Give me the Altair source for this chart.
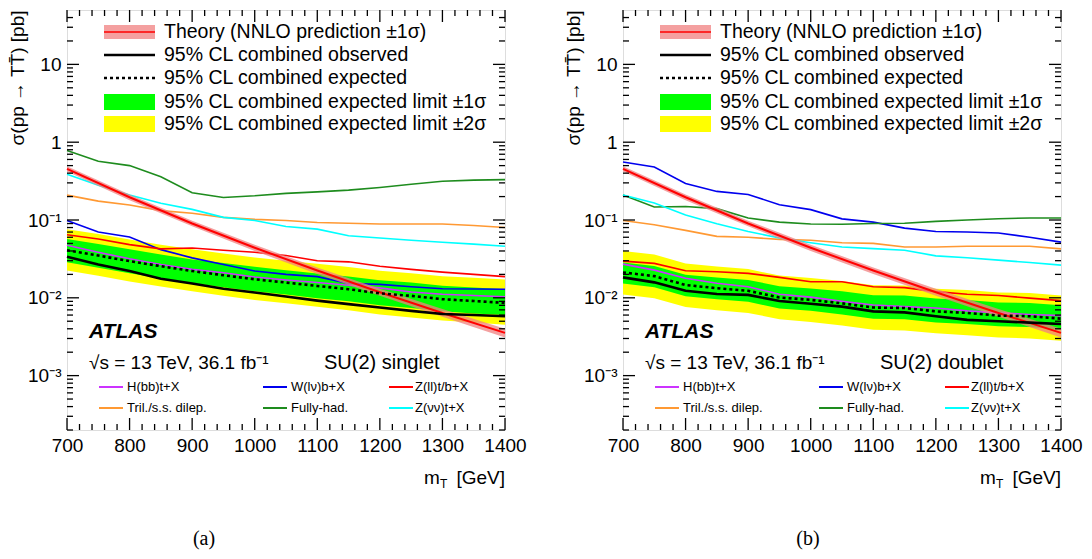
import altair as alt
import pandas as pd

# ---------------- data ----------------
mass = [700, 750, 800, 850, 900, 950, 1000, 1050, 1100, 1150, 1200, 1250, 1300, 1350, 1400]

theory_mass = [700, 800, 900, 1000, 1100, 1200, 1300, 1400]
theory = [0.455, 0.196, 0.0903, 0.0440, 0.0224, 0.0118, 0.00639, 0.00354]
theory_up = [0.49, 0.212, 0.098, 0.048, 0.0246, 0.0131, 0.0072, 0.0040]
theory_dn = [0.42, 0.180, 0.083, 0.040, 0.0202, 0.0106, 0.0057, 0.0031]

channels = ["H(bb)t+X", "W(lν)b+X", "Z(ll)t/b+X", "Tril./s.s. dilep.", "Fully-had.", "Z(νν)t+X"]
channel_colors = ["#CC33FF", "#0000EE", "#FF0000", "#FF9933", "#1E8C1E", "#00FFFF"]

# SU(2) singlet
s_hbb = [0.0473, 0.0385, 0.0317, 0.0268, 0.0232, 0.021, 0.0185, 0.0169, 0.0157, 0.0145, 0.0134, 0.0119, 0.0111, 0.0107, 0.0103]
s_wlv = [0.0985, 0.070, 0.0604, 0.0416, 0.0326, 0.0268, 0.0221, 0.020, 0.0187, 0.0153, 0.0149, 0.0139, 0.0131, 0.013, 0.0129]
s_zll = [0.0646, 0.0569, 0.0482, 0.0425, 0.0437, 0.0408, 0.0385, 0.0349, 0.0299, 0.029, 0.0255, 0.0232, 0.0214, 0.020, 0.0187]
s_tril = [0.209, 0.175, 0.156, 0.132, 0.122, 0.108, 0.102, 0.0984, 0.093, 0.091, 0.089, 0.089, 0.089, 0.085, 0.080]
s_had = [0.78, 0.57, 0.50, 0.36, 0.224, 0.195, 0.205, 0.22, 0.23, 0.242, 0.262, 0.288, 0.315, 0.325, 0.33]
s_zvv = [0.386, 0.28, 0.209, 0.164, 0.137, 0.108, 0.0986, 0.0826, 0.0763, 0.0627, 0.0586, 0.0548, 0.0517, 0.049, 0.046]
s_exp = [0.0408, 0.0349, 0.0296, 0.0255, 0.0221, 0.0195, 0.0173, 0.0157, 0.0142, 0.0129, 0.0114, 0.0106, 0.0096, 0.0091, 0.0086]
s_obs = [0.0336, 0.0268, 0.0221, 0.0176, 0.0153, 0.0131, 0.0117, 0.0104, 0.0092, 0.0083, 0.0075, 0.0068, 0.0062, 0.0060, 0.0058]
s_g_hi = [0.057, 0.049, 0.042, 0.036, 0.031, 0.028, 0.025, 0.0226, 0.0205, 0.0188, 0.0168, 0.0157, 0.0143, 0.0136, 0.0129]
s_g_lo = [0.0286, 0.0244, 0.0207, 0.0179, 0.0155, 0.0137, 0.0121, 0.011, 0.0099, 0.009, 0.008, 0.0074, 0.0067, 0.0063, 0.006]
s_y_hi = [0.076, 0.066, 0.056, 0.048, 0.042, 0.037, 0.033, 0.030, 0.0273, 0.0249, 0.0222, 0.0207, 0.0189, 0.0181, 0.0172]
s_y_lo = [0.0225, 0.0192, 0.0162, 0.0140, 0.0121, 0.0106, 0.0094, 0.0085, 0.0077, 0.0069, 0.0061, 0.0056, 0.0051, 0.0048, 0.0045]

# SU(2) doublet
d_hbb = [0.0271, 0.0227, 0.0178, 0.0154, 0.0139, 0.0111, 0.0102, 0.009, 0.0081, 0.0077, 0.0074, 0.0068, 0.0064, 0.0061, 0.0059]
d_wlv = [0.556, 0.48, 0.294, 0.233, 0.213, 0.157, 0.136, 0.1035, 0.0938, 0.0787, 0.0713, 0.070, 0.068, 0.060, 0.052]
d_zll = [0.0296, 0.0277, 0.0223, 0.0216, 0.0206, 0.0183, 0.0161, 0.0161, 0.0139, 0.0135, 0.012, 0.0111, 0.0107, 0.0099, 0.0092]
d_tril = [0.0985, 0.0867, 0.0735, 0.0616, 0.060, 0.0563, 0.055, 0.051, 0.050, 0.045, 0.045, 0.046, 0.046, 0.046, 0.0426]
d_had = [0.209, 0.147, 0.149, 0.140, 0.106, 0.094, 0.089, 0.088, 0.090, 0.091, 0.096, 0.100, 0.104, 0.106, 0.106]
d_zvv = [0.209, 0.165, 0.116, 0.0894, 0.0713, 0.0586, 0.0511, 0.045, 0.0429, 0.0408, 0.0346, 0.0327, 0.0305, 0.0284, 0.0263]
d_exp = [0.0212, 0.019, 0.0146, 0.0133, 0.0123, 0.0101, 0.0094, 0.0085, 0.0075, 0.0074, 0.0067, 0.0064, 0.0059, 0.0058, 0.0054]
d_obs = [0.0183, 0.0158, 0.0123, 0.0112, 0.0109, 0.0091, 0.0084, 0.0077, 0.0067, 0.0065, 0.0058, 0.0052, 0.005, 0.0048, 0.0046]
d_g_hi = [0.0284, 0.0256, 0.0198, 0.0182, 0.0170, 0.0141, 0.0132, 0.0121, 0.0108, 0.0107, 0.0098, 0.0094, 0.0087, 0.0086, 0.0080]
d_g_lo = [0.0153, 0.0137, 0.0105, 0.0096, 0.0089, 0.0073, 0.0068, 0.0061, 0.0054, 0.0053, 0.0048, 0.0046, 0.0043, 0.0042, 0.0039]
d_y_hi = [0.040, 0.036, 0.0277, 0.0253, 0.0234, 0.0193, 0.018, 0.0164, 0.0145, 0.0144, 0.0131, 0.0126, 0.0117, 0.0115, 0.0107]
d_y_lo = [0.0110, 0.0099, 0.0076, 0.0069, 0.0064, 0.0053, 0.0049, 0.0044, 0.0039, 0.0038, 0.0035, 0.0033, 0.0031, 0.0030, 0.0028]

x_major = [700, 800, 900, 1000, 1100, 1200, 1300, 1400]
x_minor = [v for v in range(700, 1401, 20) if v % 100 != 0]
y_major = [0.001, 0.01, 0.1, 1, 10]
y_minor = [m * 10 ** e for e in range(-4, 2) for m in range(2, 10) if 2e-4 <= m * 10 ** e < 50]

legend_top = ["Theory (NNLO prediction ±1σ)", "95% CL combined observed", "95% CL combined expected",
              "95% CL combined expected limit ±1σ", "95% CL combined expected limit ±2σ"]

# ---------------- styling ----------------
W, H = 438, 420
FONT = "Liberation Sans"
XS = alt.Scale(domain=[700, 1400], nice=False, zero=False)
YS = alt.Scale(type="log", domain=[2e-4, 50], nice=False)
X_AX = alt.Axis(values=x_major, format="d", ticks=False, domain=False, grid=False, title=None,
                labelFont=FONT, labelFontSize=19, labelColor="black", labelPadding=6,
                labelFlush=False, labelOverlap=False)
Y_AX = alt.Axis(values=y_major, ticks=False, domain=False, grid=False,
                title="σ(pp → TT̄) [pb]", titleFont=FONT, titleFontSize=19, titleFontWeight="normal",
                titleColor="black", titleAnchor="end", titlePadding=0,
                labelExpr="datum.value == 0.001 ? '10⁻³' : datum.value == 0.01 ? '10⁻²' : "
                          "datum.value == 0.1 ? '10⁻¹' : datum.value == 1 ? '1' : '10'",
                labelFont=FONT, labelFontSize=19, labelColor="black", labelPadding=6,
                labelFlush=False, labelOverlap=False)

ONE = alt.Data(values=[{}])


def xq(f):
    return alt.X(f, type="quantitative", scale=XS, axis=X_AX)


def yq(f):
    return alt.Y(f, type="quantitative", scale=YS, axis=Y_AX)


def txt(s, x, y, size=19, align="left", weight="normal", style="normal", font=FONT):
    return alt.Chart(ONE).mark_text(text=s, align=align, baseline="middle", font=font, fontSize=size,
                                    fontWeight=weight, fontStyle=style, color="black").encode(
        x=alt.value(x), y=alt.value(y))


def panel(series, obs, exp, g_lo, g_hi, y_lo, y_hi, model, caption, cap_x):
    band = pd.DataFrame({"m": mass, "g_lo": g_lo, "g_hi": g_hi, "y_lo": y_lo, "y_hi": y_hi,
                         "obs": obs, "exp": exp})
    th = pd.DataFrame({"m": theory_mass, "th": theory, "up": theory_up, "dn": theory_dn})
    rows = []
    for name, vals in zip(channels, series):
        for m, v in zip(mass, vals):
            rows.append({"m": m, "v": v, "ch": name})
    chdf = pd.DataFrame(rows)

    layers = []
    layers.append(alt.Chart(band).mark_area(color="#FFFF00").encode(x=xq("m"), y=yq("y_lo"), y2="y_hi"))
    layers.append(alt.Chart(band).mark_area(color="#00FF00").encode(x=xq("m"), y=yq("g_lo"), y2="g_hi"))
    layers.append(alt.Chart(chdf).mark_line(strokeWidth=1.6).encode(
        x=xq("m"), y=yq("v"),
        color=alt.Color("ch:N", scale=alt.Scale(domain=channels, range=channel_colors), legend=None),
        detail="ch:N"))
    layers.append(alt.Chart(th).mark_area(color="#F08080", opacity=0.75).encode(x=xq("m"), y=yq("dn"), y2="up"))
    layers.append(alt.Chart(th).mark_line(color="#FF0000", strokeWidth=2).encode(x=xq("m"), y=yq("th")))
    layers.append(alt.Chart(band).mark_line(color="black", strokeWidth=2.6, strokeDash=[3, 3]).encode(
        x=xq("m"), y=yq("exp")))
    layers.append(alt.Chart(band).mark_line(color="black", strokeWidth=2.6).encode(x=xq("m"), y=yq("obs")))

    # ticks (inward, ROOT style)
    xmaj = pd.DataFrame({"v": x_major})
    xmin = pd.DataFrame({"v": x_minor})
    ymaj = pd.DataFrame({"v": y_major})
    ymin = pd.DataFrame({"v": y_minor})
    for df, L in ((xmaj, 12), (xmin, 6)):
        layers.append(alt.Chart(df).mark_rule(color="black", strokeWidth=1.3).encode(
            x=xq("v"), y=alt.value(H), y2=alt.value(H - L)))
        layers.append(alt.Chart(df).mark_rule(color="black", strokeWidth=1.3).encode(
            x=xq("v"), y=alt.value(0), y2=alt.value(L)))
    for df, L in ((ymaj, 12), (ymin, 6)):
        layers.append(alt.Chart(df).mark_rule(color="black", strokeWidth=1.3).encode(
            y=yq("v"), x=alt.value(0), x2=alt.value(L)))
        layers.append(alt.Chart(df).mark_rule(color="black", strokeWidth=1.3).encode(
            y=yq("v"), x=alt.value(W), x2=alt.value(W - L)))

    # top legend
    sx0, sx1, tx = 37, 88, 97
    ry = [22, 45, 68, 92, 114]
    layers.append(alt.Chart(ONE).mark_rect(color="#F4A0A0").encode(
        x=alt.value(sx0), x2=alt.value(sx1), y=alt.value(ry[0] - 7), y2=alt.value(ry[0] + 7)))
    layers.append(alt.Chart(ONE).mark_rule(color="#FF0000", strokeWidth=1.5).encode(
        x=alt.value(sx0), x2=alt.value(sx1), y=alt.value(ry[0])))
    layers.append(alt.Chart(ONE).mark_rule(color="black", strokeWidth=2.6).encode(
        x=alt.value(sx0), x2=alt.value(sx1), y=alt.value(ry[1])))
    layers.append(alt.Chart(ONE).mark_rule(color="black", strokeWidth=2.6, strokeDash=[3, 3]).encode(
        x=alt.value(sx0), x2=alt.value(sx1), y=alt.value(ry[2])))
    layers.append(alt.Chart(ONE).mark_rect(color="#00FF00").encode(
        x=alt.value(sx0), x2=alt.value(sx1), y=alt.value(ry[3] - 8), y2=alt.value(ry[3] + 8)))
    layers.append(alt.Chart(ONE).mark_rect(color="#FFFF00").encode(
        x=alt.value(sx0), x2=alt.value(sx1), y=alt.value(ry[4] - 8), y2=alt.value(ry[4] + 8)))
    for s, yy in zip(legend_top, ry):
        layers.append(txt(s, tx, yy, size=19.5))

    # labels
    layers.append(txt("ATLAS", 22, 322, size=21, weight="bold", style="italic"))
    layers.append(txt("√s = 13 TeV, 36.1 fb⁻¹", 22, 353, size=19))
    layers.append(txt(model, 257, 353, size=20))

    # channel legend
    cols = [(32, 60), (196, 224), (322, 348)]
    rws = [377, 398]
    for i, (name, col) in enumerate(zip(channels, channel_colors)):
        r, c = divmod(i, 3)
        x0, xt = cols[c]
        layers.append(alt.Chart(ONE).mark_rule(color=col, strokeWidth=2).encode(
            x=alt.value(x0), x2=alt.value(x0 + 24), y=alt.value(rws[r])))
        layers.append(txt(name, xt, rws[r], size=13))

    # x-axis title m_T [GeV]
    layers.append(txt("m", 357, 468, size=19))
    layers.append(txt("T", 373, 474, size=12))
    layers.append(txt("[GeV]", W, 468, size=19, align="right"))

    # caption
    layers.append(txt(caption, cap_x, 529, size=20, align="center", font="Liberation Serif"))

    return alt.layer(*layers).properties(width=W, height=H)


left = panel([s_hbb, s_wlv, s_zll, s_tril, s_had, s_zvv], s_obs, s_exp, s_g_lo, s_g_hi, s_y_lo, s_y_hi,
             "SU(2) singlet", "(a)", 137)
right = panel([d_hbb, d_wlv, d_zll, d_tril, d_had, d_zvv], d_obs, d_exp, d_g_lo, d_g_hi, d_y_lo, d_y_hi,
              "SU(2) doublet", "(b)", 185)

chart = alt.hconcat(left, right, spacing=37, padding=0).configure_view(
    stroke="black", strokeWidth=1.5).configure(background="white")

chart.save("out.html", embed_options={"renderer": "svg", "actions": False})
